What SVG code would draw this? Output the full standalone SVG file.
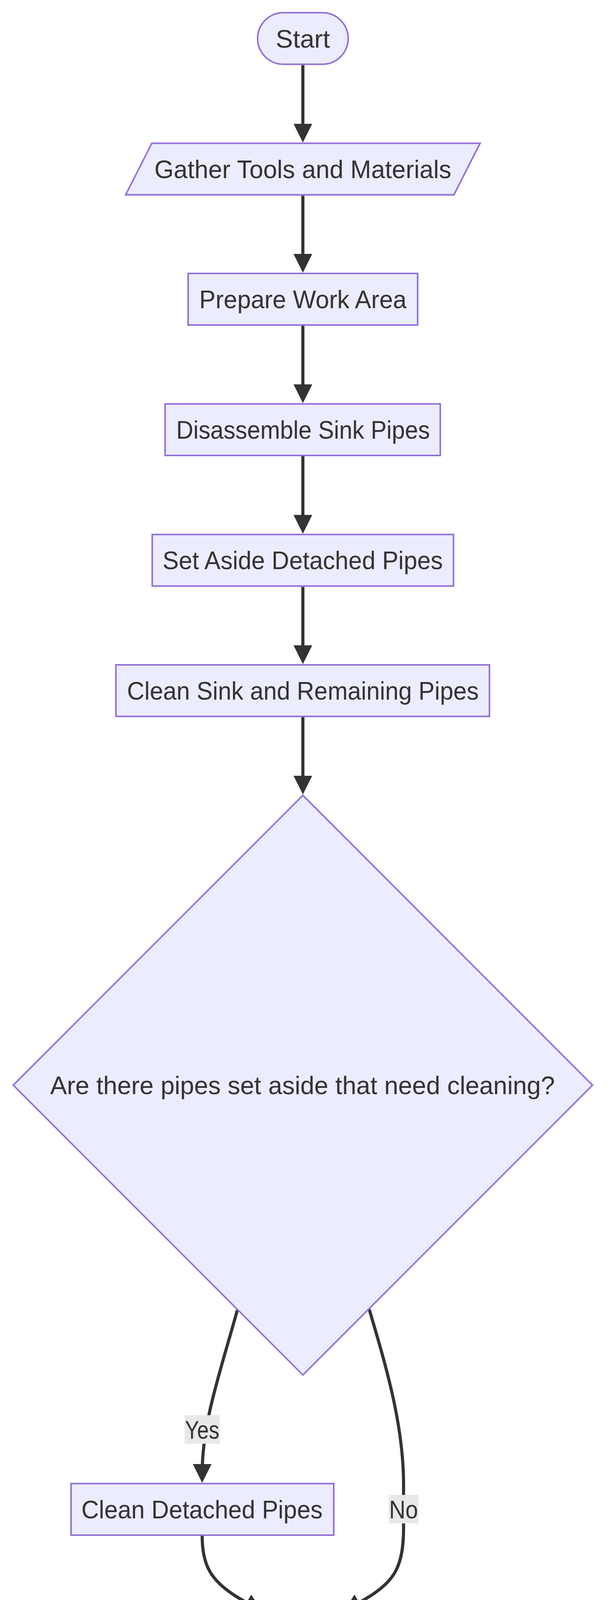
<svg xmlns="http://www.w3.org/2000/svg" width="1568" height="7122" viewBox="0 0 1568 7122">
<defs>
<marker id="arrow" viewBox="0 0 10 10" refX="5" refY="5" markerUnits="userSpaceOnUse" markerWidth="48" markerHeight="48" orient="auto">
<path d="M0,0 L10,5 L0,10 z" fill="#333333"/>
</marker>
<style>
.node rect, .node polygon { fill: #ECECFF; stroke: #9370DB; stroke-width: 4; }
.edge { fill: none; stroke: #333333; stroke-width: 8; marker-end: url(#arrow); }
text { font-family: "Liberation Sans", Arial, sans-serif; font-size: 64px; fill: #333333; text-anchor: middle; }
.lbl rect { fill: #E8E8E8; }
</style>
</defs>
<rect x="0" y="0" width="1568" height="7122" fill="#FFFFFF"/>

<g id="connectors">
<path class="edge" d="M776,166.5 L776,340.7"/>
<path class="edge" d="M776,500.7 L776,674"/>
<path class="edge" d="M776,834 L776,1008"/>
<path class="edge" d="M776,1168 L776,1342.3"/>
<path class="edge" d="M776,1502.3 L776,1676"/>
<path class="edge" d="M776,1836 L776,2009.7"/>
<path class="edge" d="M608,3354 C565,3510 518,3640 518,3772"/>
<path class="edge" d="M946,3352 C990,3500 1034,3650 1034,3800 L1034,3912 C1034,4010 1010,4045 950,4085 L900,4115"/>
<path class="edge" d="M518,3932 C518,4010 542,4045 602,4085 L652,4115"/>
<path class="edge" d="M672,4266 C600,4310 519,4360 519,4441"/>
<path class="edge" d="M519,4600 L519,4640 C519,4760 573,4862 595,4949"/>
<path class="edge" d="M950,4972 C1000,4800 1033,4680 1033,4560 L1033,4485 C1033,4387 1010,4352 950,4312 L900,4279"/>
<path class="edge" d="M776,6274.5 L776,6524"/>
<path class="edge" d="M776,6684 L776,6857.5"/>
</g>

<g id="edge-labels">
<g class="lbl" id="label-yes-1"><rect x="473" y="3623" width="90" height="73"/><text x="518" y="3682.5" textLength="88" lengthAdjust="spacingAndGlyphs">Yes</text></g>
<g class="lbl" id="label-no-1"><rect x="996" y="3827" width="76" height="73"/><text x="1034" y="3886.5" textLength="74" lengthAdjust="spacingAndGlyphs">No</text></g>
<g class="lbl" id="label-no-2"><rect x="995" y="4495" width="76" height="73"/><text x="1033" y="4554.5" textLength="74" lengthAdjust="spacingAndGlyphs">No</text></g>
<g class="lbl" id="label-yes-2"><rect x="731" y="6375" width="89" height="73"/><text x="775.5" y="6434.5" textLength="88" lengthAdjust="spacingAndGlyphs">Yes</text></g>
</g>

<g class="node" id="start">
<rect x="660" y="32.5" width="232" height="132" rx="66" ry="66"/>
<text x="776" y="121.5" textLength="139" lengthAdjust="spacingAndGlyphs">Start</text>
</g>
<g class="node" id="gather">
<polygon points="389,366.7 1230,366.7 1163,498.7 322,498.7"/>
<text x="776" y="455.7" textLength="761" lengthAdjust="spacingAndGlyphs">Gather Tools and Materials</text>
</g>
<g class="node" id="prepare">
<rect x="482" y="700" width="588" height="132"/>
<text x="776" y="789" textLength="531" lengthAdjust="spacingAndGlyphs">Prepare Work Area</text>
</g>
<g class="node" id="disassemble">
<rect x="423" y="1034" width="705" height="132"/>
<text x="776.5" y="1123" textLength="650" lengthAdjust="spacingAndGlyphs">Disassemble Sink Pipes</text>
</g>
<g class="node" id="set-aside">
<rect x="390" y="1368.3" width="772" height="132"/>
<text x="775.5" y="1457.3" textLength="718" lengthAdjust="spacingAndGlyphs">Set Aside Detached Pipes</text>
</g>
<g class="node" id="clean-sink">
<rect x="297" y="1702" width="957" height="132"/>
<text x="776" y="1791" textLength="901" lengthAdjust="spacingAndGlyphs">Clean Sink and Remaining Pipes</text>
</g>
<g class="node" id="decision-pipes">
<polygon points="776,2036 1518,2778 776,3520 34,2778"/>
<text x="775" y="2801" textLength="1293" lengthAdjust="spacingAndGlyphs">Are there pipes set aside that need cleaning?</text>
</g>
<g class="node" id="clean-detached">
<rect x="182" y="3798" width="673" height="132"/>
<text x="517.5" y="3887" textLength="618" lengthAdjust="spacingAndGlyphs">Clean Detached Pipes</text>
</g>
<g class="node" id="reassemble">
<rect x="430" y="4132.5" width="692" height="132"/>
<text x="776" y="4221.5" textLength="635" lengthAdjust="spacingAndGlyphs">Reassemble Sink Pipes</text>
</g>
<g class="node" id="test">
<rect x="184" y="4466" width="670" height="132"/>
<text x="519" y="4555" textLength="615" lengthAdjust="spacingAndGlyphs">Test for Functionality</text>
</g>
<g class="node" id="decision-drain">
<polygon points="776,4800 1512,5536 776,6272 40,5536"/>
<text x="777" y="5559" textLength="1283" lengthAdjust="spacingAndGlyphs">Is the water draining properly without leaks?</text>
</g>
<g class="node" id="result">
<polygon points="289,6550 1331,6550 1264,6682 221,6682"/>
<text x="776" y="6639" textLength="965" lengthAdjust="spacingAndGlyphs">A Clean and Functional Sink Drain</text>
</g>
<g class="node" id="end">
<rect x="679" y="6883.5" width="194" height="132" rx="66" ry="66"/>
<text x="776" y="6972.5" textLength="105" lengthAdjust="spacingAndGlyphs">End</text>
</g>
</svg>
